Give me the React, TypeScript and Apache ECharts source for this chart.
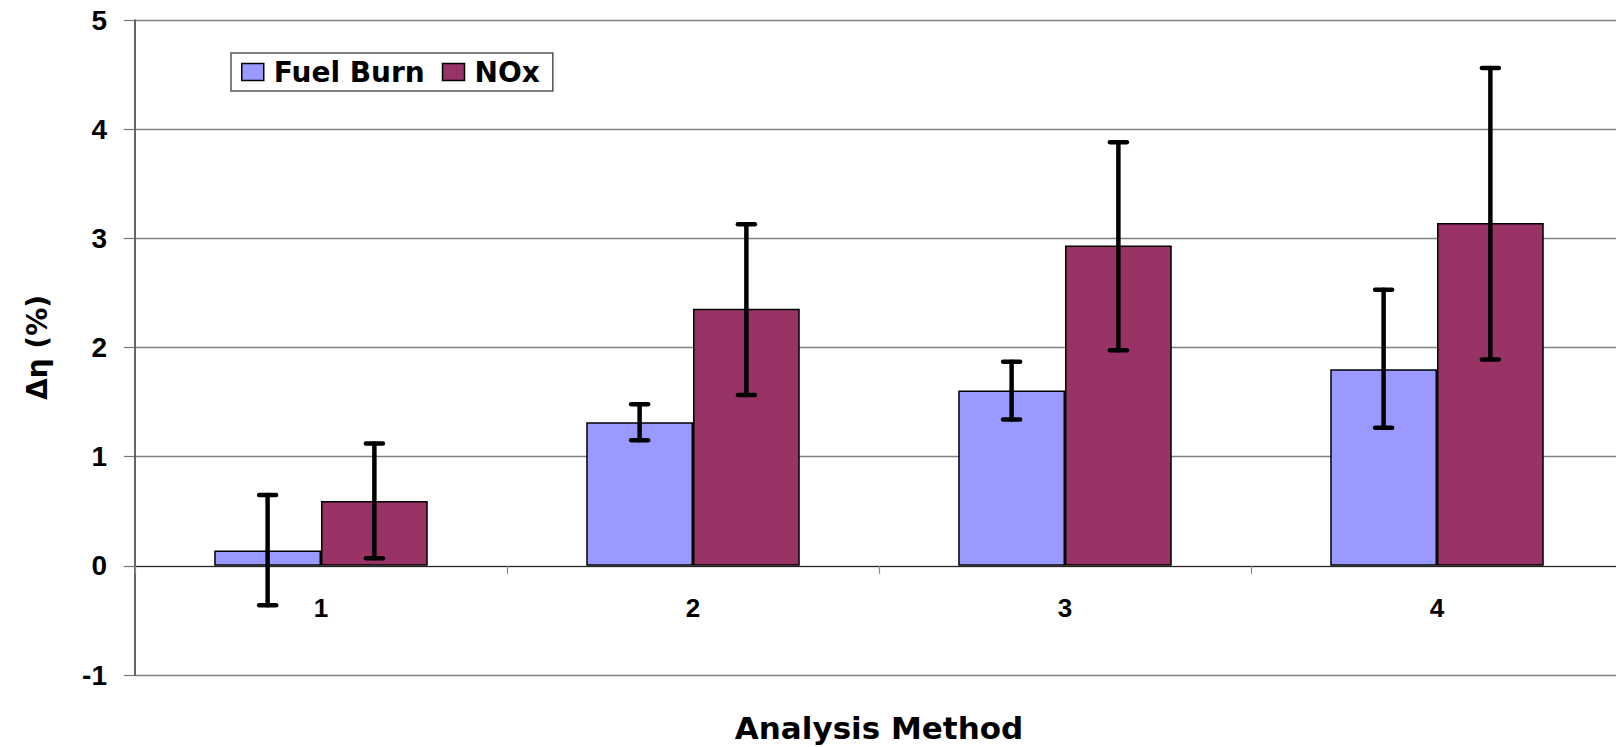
import React, { useEffect, useRef } from "react";
import * as echarts from "echarts";

const categories = ["1", "2", "3", "4"];
const seriesNames = ["Fuel Burn", "NOx"];
const fuelBurn = [0.14, 1.315, 1.605, 1.8];
const fuelLow = [-0.36, 1.15, 1.34, 1.265];
const fuelHigh = [0.65, 1.48, 1.87, 2.53];
const nox = [0.595, 2.355, 2.935, 3.14];
const noxLow = [0.07, 1.565, 1.975, 1.89];
const noxHigh = [1.12, 3.13, 3.88, 4.56];

const CAT_GAP = 0.426;

export default function App() {
  const ref = useRef<HTMLDivElement>(null);
  useEffect(() => {
    if (!ref.current) return;
    const chart = echarts.init(ref.current, undefined, { renderer: "svg" });
    const errData: number[][] = [];
    categories.forEach((_, i) => {
      errData.push([i, fuelLow[i], fuelHigh[i], 0]);
      errData.push([i, noxLow[i], noxHigh[i], 1]);
    });
    const renderItem = (params: any, api: any) => {
      const idx = api.value(0);
      const lo = api.value(1);
      const hi = api.value(2);
      const s = api.value(3);
      const band = api.size([1, 0])[0];
      const barW = (band * (1 - CAT_GAP)) / 2;
      const pLo = api.coord([idx, lo]);
      const pHi = api.coord([idx, hi]);
      const x = pLo[0] + (s === 0 ? -barW / 2 : barW / 2);
      const cap = 8.5;
      const style = { stroke: "#000", lineWidth: 4.5, lineCap: "round" };
      return {
        type: "group",
        children: [
          { type: "line", shape: { x1: x, y1: pLo[1], x2: x, y2: pHi[1] }, style },
          { type: "line", shape: { x1: x - cap, y1: pHi[1], x2: x + cap, y2: pHi[1] }, style },
          { type: "line", shape: { x1: x - cap, y1: pLo[1], x2: x + cap, y2: pLo[1] }, style },
        ],
      };
    };
    chart.setOption({
      animation: false,
      backgroundColor: "#fff",
      grid: { left: 135, top: 20, right: -7, bottom: 72, outerBoundsMode: "none" },
      legend: {
        data: seriesNames,
        left: 231,
        top: 53,
        orient: "horizontal",
        padding: [5, 13, 5, 10],
        itemGap: 17,
        itemWidth: 22,
        itemHeight: 17,
        icon: "rect",
        borderColor: "#555",
        borderWidth: 1.5,
        backgroundColor: "#fff",
        itemStyle: { borderColor: "#000", borderWidth: 1.5 },
        textStyle: {
          fontFamily: "DejaVu Sans",
          fontWeight: "bold",
          fontSize: 28,
          color: "#000",
          padding: [0, 0, 0, 5],
        },
      },
      xAxis: {
        type: "category",
        data: categories,
        name: "Analysis Method",
        nameLocation: "middle",
        nameGap: 37,
        nameMoveOverlap: false,
        nameTextStyle: { fontFamily: "DejaVu Sans", fontWeight: "bold", fontSize: 31, color: "#000" },
        axisLine: { show: true, onZero: true, lineStyle: { color: "#222", width: 1.2 } },
        axisTick: { show: true, length: 8, lineStyle: { color: "#888", width: 1.2 } },
        axisLabel: {
          margin: -80,
          fontFamily: "Liberation Sans",
          fontWeight: "bold",
          fontSize: 26,
          color: "#000",
        },
      },
      yAxis: {
        type: "value",
        min: -1,
        max: 5,
        interval: 1,
        name: "Δη (%)",
        nameLocation: "middle",
        nameGap: 84,
        nameTextStyle: { fontFamily: "DejaVu Sans", fontWeight: "bold", fontSize: 28, color: "#000" },
        axisLine: { show: true, onZero: false, lineStyle: { color: "#333", width: 1.5 } },
        axisTick: { show: true, length: 11, lineStyle: { color: "#777", width: 1.2 } },
        splitLine: { show: true, lineStyle: { color: "#808080", width: 1.3 } },
        axisLabel: {
          margin: 28,
          fontFamily: "Liberation Sans",
          fontWeight: "bold",
          fontSize: 28,
          color: "#000",
        },
      },
      series: [
        {
          name: seriesNames[0],
          type: "bar",
          data: fuelBurn,
          barGap: "0%",
          barCategoryGap: CAT_GAP * 100 + "%",
          itemStyle: { color: "#9999FF", borderColor: "#000", borderWidth: 1.5 },
        },
        {
          name: seriesNames[1],
          type: "bar",
          data: nox,
          barGap: "0%",
          barCategoryGap: CAT_GAP * 100 + "%",
          itemStyle: { color: "#993366", borderColor: "#000", borderWidth: 1.5 },
        },
        {
          name: "errors",
          type: "custom",
          renderItem,
          data: errData,
          encode: { x: 0, y: [1, 2] },
          z: 10,
          silent: true,
        },
      ],
    });
    return () => chart.dispose();
  }, []);
  return (
    <div
      ref={ref}
      style={{ position: "fixed", left: 0, top: 0, width: 1616, height: 747 }}
    />
  );
}
